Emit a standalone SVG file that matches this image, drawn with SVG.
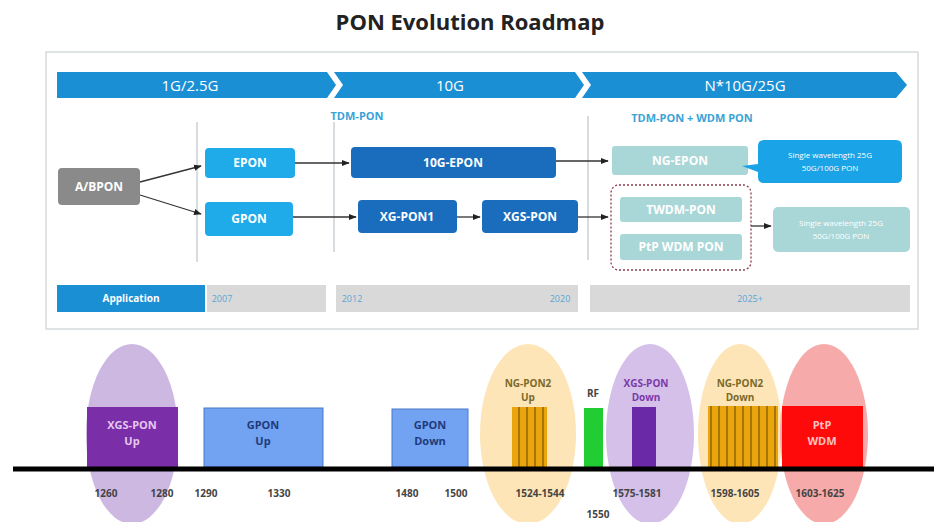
<svg xmlns="http://www.w3.org/2000/svg" width="934" height="522" viewBox="0 0 934 522">
<defs>
<style>
text{font-family:"Open Sans","Liberation Sans",sans-serif;text-anchor:middle}
.title{font-size:22px;font-weight:bold;fill:#222}
.band{fill:#1b8fd4}
.bandt{font-size:15px;fill:#fff}
.sec{font-size:11px;font-weight:bold;fill:#3aa3d6}
.div{stroke:#c8d0d4;stroke-width:1.5}
.nt{font-size:12px;font-weight:bold;fill:#fff}
.lb{fill:#1faaea}
.db{fill:#1a6dbd}
.pt{fill:#a9d7d7}
.gr{fill:#d9d9d9}
.yr{font-size:9px;fill:#5aa6d6}
.con{stroke:#333;stroke-width:1.3;fill:none;marker-end:url(#ah)}
.num{font-size:10px;font-weight:bold;fill:#444}
.lbl{font-size:11px;font-weight:bold}
.sl{font-size:10px;font-weight:bold}
.ct{font-size:8px;fill:#fff}
</style>
<marker id="ah" viewBox="0 0 10 10" refX="9" refY="5" markerWidth="6" markerHeight="6" orient="auto"><path d="M0,1 L10,5 L0,9 z" fill="#222"/></marker>
<pattern id="stripe" width="8" height="10" patternUnits="userSpaceOnUse"><rect width="8" height="10" fill="#eaa50c"/><rect x="6" width="2" height="10" fill="#a87408"/></pattern>
</defs>
<rect width="934" height="522" fill="#fff"/>
<text class="title" x="470" y="30">PON Evolution Roadmap</text>
<rect x="46" y="52" width="872" height="277" fill="#fff" stroke="#d6dadc" stroke-width="1.5"/>

<g id="band">
<path class="band" d="M57,72 L327,72 L336,85 L327,98 L57,98 z"/>
<path class="band" d="M334,72 L575,72 L584,85 L575,98 L334,98 L343,85 z"/>
<path class="band" d="M582,72 L896,72 L907,85 L896,98 L582,98 L591,85 z"/>
<text class="bandt" x="190" y="91">1G/2.5G</text>
<text class="bandt" x="450" y="91">10G</text>
<text class="bandt" x="745" y="91">N*10G/25G</text>
</g>
<text class="sec" x="357" y="120">TDM-PON</text>
<text class="sec" x="692" y="122">TDM-PON + WDM PON</text>
<line class="div" x1="197" y1="122" x2="197" y2="262"/>
<line class="div" x1="334" y1="122" x2="334" y2="252"/>
<line class="div" x1="588" y1="116" x2="588" y2="260"/>

<g id="connectors">
<path class="con" d="M140,182 L201,166"/>
<path class="con" d="M140,195 L201,214"/>
<path class="con" d="M295,163 L349,163"/>
<path class="con" d="M293,217 L356,217"/>
<path class="con" d="M457,217 L480,217"/>
<path class="con" d="M556,161 L608,161"/>
<path class="con" d="M578,217 L608,217"/>
<path class="con" d="M751,226 L771,226"/>
</g>

<g id="abpon"><rect x="58" y="168" width="82" height="37" rx="4" fill="#8a8a8a"/><text class="nt" x="99" y="191">A/BPON</text></g>
<g id="epon"><rect class="lb" x="205" y="148" width="90" height="30" rx="4"/><text class="nt" x="250" y="167">EPON</text></g>
<g id="gpon"><rect class="lb" x="205" y="202" width="88" height="34" rx="4"/><text class="nt" x="249" y="223">GPON</text></g>
<g id="epon10g"><rect class="db" x="351" y="147" width="205" height="31" rx="4"/><text class="nt" x="453" y="167">10G-EPON</text></g>
<g id="xgpon1"><rect class="db" x="358" y="200" width="99" height="33" rx="4"/><text class="nt" x="407" y="221">XG-PON1</text></g>
<g id="xgspon"><rect class="db" x="482" y="200" width="96" height="33" rx="4"/><text class="nt" x="530" y="221">XGS-PON</text></g>
<g id="ngepon"><rect class="pt" x="612" y="146" width="136" height="29" rx="3"/><text class="nt" x="680" y="165">NG-EPON</text></g>
<g id="callout1"><path d="M764,140 L896,140 Q902,140 902,146 L902,177 Q902,183 896,183 L764,183 Q758,183 758,177 L758,172 L742,166 L758,164 L758,146 Q758,140 764,140 z" fill="#1aa3e6"/><text class="ct" x="830" y="158">Single wavelength 25G</text><text class="ct" x="830" y="171">50G/100G PON</text></g>
<g id="wdmgroup"><rect x="611" y="185" width="140" height="85" rx="8" fill="none" stroke="#8a3a4a" stroke-width="1.3" stroke-dasharray="2,2"/></g>
<g id="twdm"><rect class="pt" x="620" y="197" width="122" height="25" rx="3"/><text class="nt" x="681" y="214">TWDM-PON</text></g>
<g id="ptpwdm"><rect class="pt" x="620" y="234" width="122" height="26" rx="3"/><text class="nt" x="681" y="251">PtP WDM PON</text></g>
<g id="callout2"><rect class="pt" x="773" y="207" width="137" height="45" rx="5"/><text class="ct" x="841" y="226">Single wavelength 25G</text><text class="ct" x="841" y="239">50G/100G PON</text></g>

<g id="application">
<rect x="57" y="285" width="148" height="27" fill="#1b8fd4"/>
<text x="131" y="302" style="font-size:10px;font-weight:bold;fill:#fff">Application</text>
<rect class="gr" x="207" y="285" width="119" height="27"/>
<text class="yr" x="222" y="302">2007</text>
<rect class="gr" x="336" y="285" width="242" height="27"/>
<text class="yr" x="352" y="302">2012</text>
<text class="yr" x="560" y="302">2020</text>
<rect class="gr" x="590" y="285" width="320" height="27"/>
<text class="yr" x="750" y="302">2025+</text>
</g>

<g id="spectrum">
<ellipse cx="132" cy="434" rx="46" ry="90" fill="#cdb8e2"/>
<ellipse cx="528" cy="434" rx="48" ry="90" fill="#fde5b8"/>
<ellipse cx="650" cy="434" rx="44" ry="90" fill="#d4c0e8"/>
<ellipse cx="740" cy="434" rx="42" ry="90" fill="#fde5b8"/>
<ellipse cx="824" cy="434" rx="44" ry="90" fill="#f7aaaa"/>
<g id="xgsup"><rect x="87" y="407" width="91" height="60" fill="#7a2fa8"/><text class="lbl" x="132" y="429" fill="#e6c8f0">XGS-PON</text><text class="lbl" x="132" y="445" fill="#e6c8f0">Up</text></g>
<g id="gponup"><rect x="204" y="408" width="119" height="59" fill="#72a3f2" stroke="#4a78c8"/><text class="lbl" x="263" y="429" fill="#1f3a7a">GPON</text><text class="lbl" x="263" y="445" fill="#1f3a7a">Up</text></g>
<g id="gpondown"><rect x="392" y="409" width="76" height="58" fill="#72a3f2" stroke="#4a78c8"/><text class="lbl" x="430" y="429" fill="#1f3a7a">GPON</text><text class="lbl" x="430" y="445" fill="#1f3a7a">Down</text></g>
<g id="ngpon2up"><rect x="512" y="407" width="35" height="60" fill="url(#stripe)"/><text class="sl" x="528" y="387" fill="#7a6a2a">NG-PON2</text><text class="sl" x="528" y="401" fill="#7a6a2a">Up</text></g>
<g id="rf"><rect x="584" y="408" width="19" height="59" fill="#22cc33"/><text class="sl" x="593" y="397" fill="#444">RF</text></g>
<g id="xgsdown"><rect x="632" y="407" width="24" height="60" fill="#6a2aa8"/><text class="sl" x="646" y="387" fill="#7a3aa8">XGS-PON</text><text class="sl" x="646" y="401" fill="#7a3aa8">Down</text></g>
<g id="ngpon2down"><rect x="708" y="406" width="70" height="61" fill="url(#stripe)"/><text class="sl" x="740" y="387" fill="#7a6a2a">NG-PON2</text><text class="sl" x="740" y="401" fill="#7a6a2a">Down</text></g>
<g id="ptp"><rect x="782" y="406" width="81" height="61" fill="#ff0a0a"/><text class="lbl" x="822" y="429" fill="#ffc0c0">PtP</text><text class="lbl" x="822" y="445" fill="#ffc0c0">WDM</text></g>
<line x1="13" y1="469" x2="934" y2="469" stroke="#000" stroke-width="5"/>
<text class="num" x="106" y="497">1260</text>
<text class="num" x="162" y="497">1280</text>
<text class="num" x="206" y="497">1290</text>
<text class="num" x="279" y="497">1330</text>
<text class="num" x="407" y="497">1480</text>
<text class="num" x="456" y="497">1500</text>
<text class="num" x="540" y="497">1524-1544</text>
<text class="num" x="598" y="518">1550</text>
<text class="num" x="637" y="497">1575-1581</text>
<text class="num" x="735" y="497">1598-1605</text>
<text class="num" x="820" y="497">1603-1625</text>
</g>
</svg>
